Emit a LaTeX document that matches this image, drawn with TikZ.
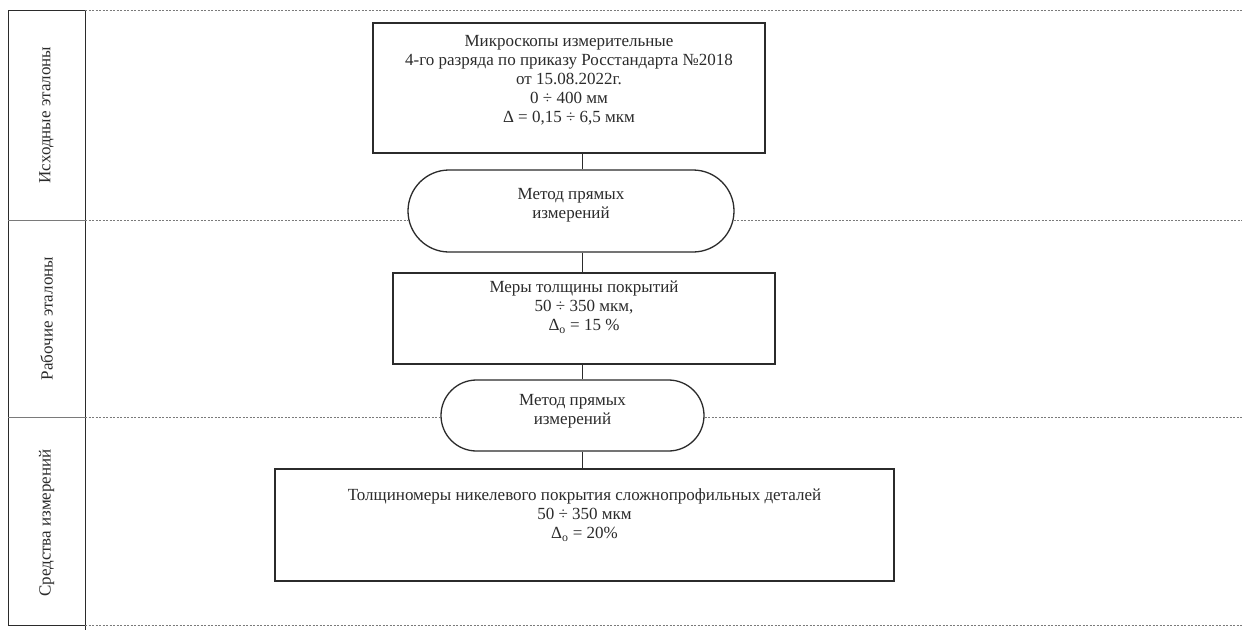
\documentclass[tikz,border=0pt]{standalone}
\usepackage{fontspec}
\setmainfont{Liberation Serif}
\usetikzlibrary{calc}
\definecolor{ink}{HTML}{2B2B2B}
\definecolor{sepgray}{HTML}{7A7A7A}
\begin{document}
\begin{tikzpicture}[x=1pt,y=-1pt,
  every node/.style={font=\fontsize{17}{19}\selectfont, text=ink},
  boxnode/.style={draw=ink, line width=1.3pt, rectangle, inner sep=0pt},
  stadium/.style={draw=ink, line width=1.3pt, rectangle, rounded corners=#1, inner sep=0pt},
  txt/.style={align=center, inner sep=0pt},
  link/.style={draw=ink, line width=1pt},
  frameline/.style={draw=ink, line width=1pt},
  thinsep/.style={draw=sepgray, line width=0.8pt},
  sep/.style={draw=sepgray, line width=1pt, dash pattern=on 2pt off 1.5pt}
]
\useasboundingbox (0,0) rectangle (1242,630);
\fill[white] (0,0) rectangle (1242,630);

% left column frame
\coordinate (ftl) at (8,10);
\coordinate (ftr) at (85,10);
\coordinate (fbl) at (8,625);
\coordinate (fbr) at (85,625);
\coordinate (fbot) at (85,630);
\coordinate (rtop) at (1242,10);
\coordinate (rbot) at (1242,625);
\draw[frameline] (ftl) -- (ftr);
\draw[frameline] (ftl) -- (fbl) -- (fbr);
\draw[frameline] (ftr) -- (fbot);
\draw[sep] (ftr) -- (rtop);
\draw[sep] (fbr) -- (rbot);

% row labels
\node[rotate=90] (l1) at (46.5,115) {Исходные эталоны};
\node[rotate=90] (l2) at (46.5,318.5) {Рабочие эталоны};
\node[rotate=90] (l3) at (46.5,523) {Средства измерений};

% shapes
\node[boxnode, minimum width=392pt, minimum height=130pt] (b1) at (569,88) {};
\node[txt] (t1) at (569,80) {Микроскопы измерительные\\4-го разряда по приказу Росстандарта №2018\\от 15.08.2022г.\\0 ÷ 400 мм\\Δ = 0,15 ÷ 6,5 мкм};

\node[stadium=41pt, minimum width=326pt, minimum height=82pt] (s1) at (571,211) {};
\node[txt] (ts1) at (571,205) {Метод прямых\\измерений};

\node[boxnode, minimum width=382pt, minimum height=91pt] (b2) at (584,318.5) {};
\node[txt] (t2) at (584,307) {Меры толщины покрытий\\50 ÷ 350 мкм,\\Δ\textsubscript{о} = 15 \%};

\node[stadium=35.5pt, minimum width=263pt, minimum height=71pt] (s2) at (572.5,415.5) {};
\node[txt] (ts2) at (572.5,411) {Метод прямых\\измерений};

\node[boxnode, minimum width=619pt, minimum height=112pt] (b3) at (584.5,525) {};
\node[txt] (t3) at (584.5,515) {Толщиномеры никелевого покрытия сложнопрофильных деталей\\50 ÷ 350 мкм\\Δ\textsubscript{о} = 20\%};

% row separators
\coordinate (d1l) at (8,220);
\coordinate (d1m) at (85,220);
\coordinate (d1r) at (1242,220);
\coordinate (d2l) at (8,417);
\coordinate (d2m) at (85,417);
\coordinate (d2r) at (1242,417);
\draw[thinsep] (d1l) -- (d1m);
\draw[thinsep] (d2l) -- (d2m);
\draw[sep] (d1m) -- ($(s1.west)+(1,9)$);
\draw[sep] ($(s1.east)+(-1,9)$) -- (d1r);
\draw[sep] (d2m) -- ($(s2.west)+(0,1.5)$);
\draw[sep] ($(s2.east)+(0,1.5)$) -- (d2r);

% connectors
\coordinate (cx) at (582,0);
\draw[link] (b1.south -| cx) -- (s1.north -| cx);
\draw[link] (s1.south -| cx) -- (b2.north -| cx);
\draw[link] (b2.south -| cx) -- (s2.north -| cx);
\draw[link] (s2.south -| cx) -- (b3.north -| cx);
\end{tikzpicture}
\end{document}
